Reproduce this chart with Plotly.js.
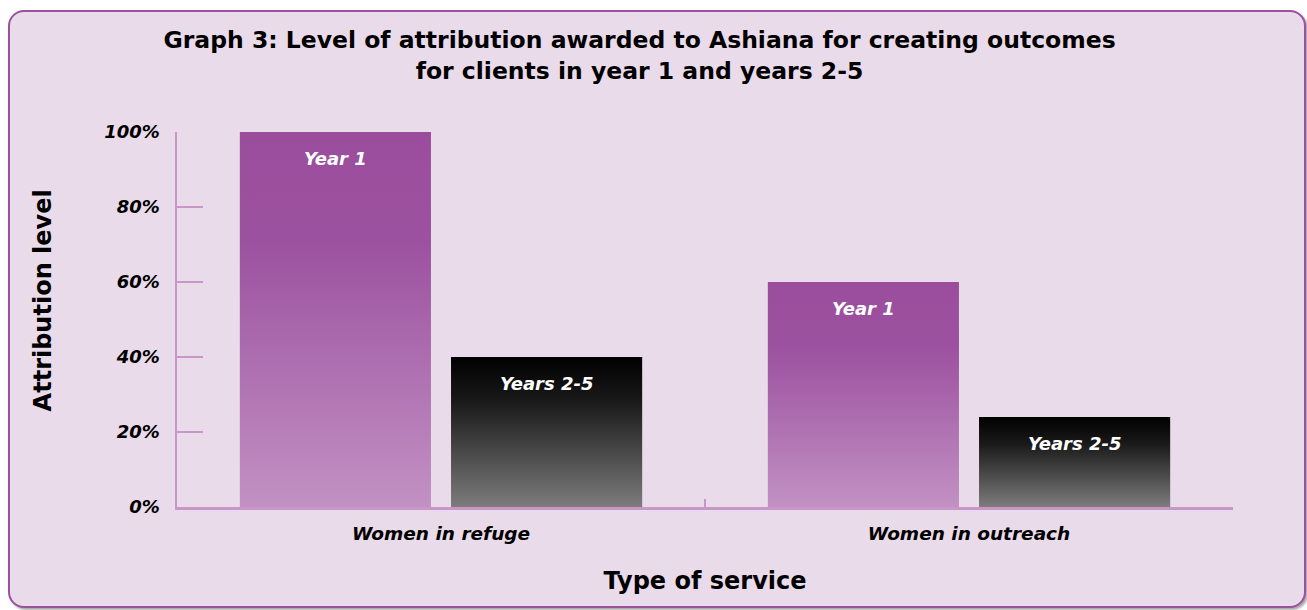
<!DOCTYPE html>
<html>
<head>
<meta charset="utf-8">
<script src="https://cdn.plot.ly/plotly-3.0.1.min.js"></script>
<style>
  html, body { margin:0; padding:0; background:#ffffff; }
  #panel { position:absolute; left:8px; top:10px; width:1294px; height:594px;
           background:#EADBEB; border:2.5px solid #9B519E; border-radius:16px;
           box-shadow:2px 2px 2px rgba(90,90,90,0.5); }
  #chart { position:absolute; left:0; top:0; width:1307px; height:610px; }
</style>
</head>
<body>
<div id="panel"></div>
<div id="chart"></div>
<script>
const categories = ["Women in refuge", "Women in outreach"];
const seriesNames = ["Year 1", "Years 2-5"];
const year1 = [100, 60];
const years2to5 = [40, 24];
const yTickVals = [0, 20, 40, 60, 80, 100];
const yTickText = ["0%", "20%", "40%", "60%", "80%", "100%"];

const FONT = "'DejaVu Sans', sans-serif";
const AXIS = "#C896C9";

const traces = [
  { type:"bar", name:seriesNames[0], x:categories, y:year1,
    marker:{color:"#9B4F9D", line:{width:0}}, hoverinfo:"none" },
  { type:"bar", name:seriesNames[1], x:categories, y:years2to5,
    marker:{color:"#000000", line:{width:0}}, hoverinfo:"none" }
];

const annotations = [];
[year1, years2to5].forEach((vals, si) => {
  vals.forEach((v, ci) => {
    annotations.push({
      x: categories[ci], y: v, xref:"x", yref:"y",
      xshift: si === 0 ? -105.5 : 105.5, yshift: -14,
      yanchor:"top", showarrow:false, text: seriesNames[si],
      font:{family:FONT, size:18, color:"#ffffff", weight:700, style:"italic"}
    });
  });
});
annotations.push({
  xref:"paper", yref:"paper", x:-0.127, y:0.5, xanchor:"center", yanchor:"middle",
  yshift: 19, textangle:-90, showarrow:false, text:"Attribution level",
  font:{family:FONT, size:24, color:"#000000", weight:700}
});

const layout = {
  width:1307, height:610,
  paper_bgcolor:"rgba(0,0,0,0)", plot_bgcolor:"rgba(0,0,0,0)",
  margin:{l:177, r:74, t:132, b:103},
  showlegend:false,
  barmode:"group", bargap:0.2, bargroupgap:0.095,
  title:{ text:"Graph 3: Level of attribution awarded to Ashiana for creating outcomes<br>for clients in year 1 and years 2-5",
          x:0.438, xref:"paper", xanchor:"center", y:0.921, yanchor:"top",
          font:{family:FONT, size:23.5, color:"#000000", weight:700} },
  xaxis:{ type:"category", range:[-0.5, 1.5], tickson:"boundaries",
          ticks:"inside", ticklen:8, tickwidth:2.5, tickcolor:AXIS,
          showline:true, linecolor:AXIS, linewidth:2.5, showgrid:false, zeroline:false,
          ticklabelstandoff:8,
          tickfont:{family:FONT, size:18.5, color:"#000000", weight:700, style:"italic"},
          title:{ text:"Type of service", standoff:30,
                  font:{family:FONT, size:24, color:"#000000", weight:700} } },
  yaxis:{ range:[0, 100], tickvals:yTickVals, ticktext:yTickText,
          ticks:"inside", ticklen:26, tickwidth:2.5, tickcolor:AXIS,
          showline:true, linecolor:AXIS, linewidth:2.5, showgrid:false, zeroline:false,
          ticklabelstandoff:11,
          tickfont:{family:FONT, size:18, color:"#000000", weight:700, style:"italic"} },
  annotations: annotations
};

function applyGradients(gd) {
  const svg = gd.querySelector(".main-svg");
  if (!svg) return;
  const NS = "http://www.w3.org/2000/svg";
  let defs = svg.querySelector("defs#gradDefs");
  if (!defs) {
    defs = document.createElementNS(NS, "defs");
    defs.setAttribute("id", "gradDefs");
    const grads = [["gY1", "#9A4D9C", "#9C52A0", "#C291C3"], ["gY25", "#000000", "#1a1a1a", "#7C7C7C"]];
    grads.forEach(([id, c0, c1, c2]) => {
      const lg = document.createElementNS(NS, "linearGradient");
      lg.setAttribute("id", id);
      lg.setAttribute("x1", "0"); lg.setAttribute("y1", "0");
      lg.setAttribute("x2", "0"); lg.setAttribute("y2", "1");
      [[0, c0], [0.3, c1], [1, c2]].forEach(([o, c]) => {
        const s = document.createElementNS(NS, "stop");
        s.setAttribute("offset", o); s.setAttribute("stop-color", c);
        lg.appendChild(s);
      });
      defs.appendChild(lg);
    });
    svg.insertBefore(defs, svg.firstChild);
  }
  const barTraces = gd.querySelectorAll(".barlayer .trace");
  barTraces.forEach((t, i) => {
    t.querySelectorAll("path").forEach(p => {
      p.style.fill = i === 0 ? "url(#gY1)" : "url(#gY25)";
    });
  });
}

Plotly.newPlot("chart", traces, layout, {displayModeBar:false, staticPlot:true}).then(gd => {
  applyGradients(gd);
  gd.on("plotly_afterplot", () => applyGradients(gd));
});
</script>
</body>
</html>
